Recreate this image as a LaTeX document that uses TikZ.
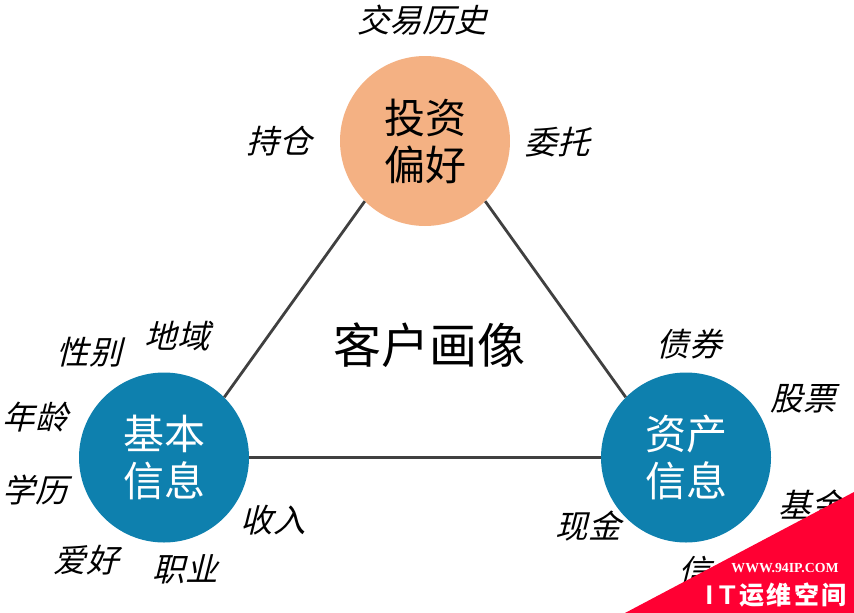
\documentclass[tikz,border=0pt]{standalone}
\usepackage{fontspec}
\setmainfont{Liberation Sans}
\newfontfamily\cjk{Noto Sans CJK SC}
\newfontfamily\cjkit[FakeSlant=0.25]{Noto Sans CJK SC}
\newfontfamily\wmserif{Liberation Serif}
\definecolor{peach}{HTML}{F4B183}
\definecolor{teal1}{HTML}{0E80AE}
\definecolor{redc}{HTML}{FF0033}
\definecolor{lin}{HTML}{404040}
\tikzset{
  hub/.style={circle,minimum size=170pt,inner sep=0pt,align=center,font=\fontsize{41}{47}\selectfont\cjk},
  tag/.style={inner sep=0pt,text=black,font=\fontsize{32.5}{36}\selectfont\cjkit},
  link/.style={draw=lin,line width=2.8pt}
}
\begin{document}
\begin{tikzpicture}[x=1pt,y=-1pt]
\useasboundingbox (0,0) rectangle (854,613);
\node[hub,fill=peach,text=black] (top) at (425,141) {投资\\偏好};
\node[hub,fill=teal1,text=white] (left) at (164,457.5) {基本\\信息};
\node[hub,fill=teal1,text=white] (right) at (686,457.5) {资产\\信息};
\draw[link] (top.225) -- (left.45);
\draw[link] (top.-45) -- (right.135);
\draw[link] (left) -- (right);
\node[inner sep=0pt,font=\fontsize{48}{52}\selectfont\cjk] (title) at (429,345) {客户画像};
\node[tag] (t1) at (422,20) {交易历史};
\node[tag] (t2) at (279,141) {持仓};
\node[tag] (t3) at (557,142) {委托};
\node[tag] (l1) at (177,336) {地域};
\node[tag] (l2) at (89,352) {性别};
\node[tag] (l3) at (35,417) {年龄};
\node[tag] (l4) at (35,490) {学历};
\node[tag] (l5) at (86,560) {爱好};
\node[tag] (l6) at (185,569) {职业};
\node[tag] (l7) at (273,520) {收入};
\node[tag] (r1) at (689,344) {债券};
\node[tag] (r2) at (803,399) {股票};
\node[tag] (r3) at (811,505) {基金};
\node[tag] (r4) at (588,526) {现金};
\node[tag] (r5) at (695,571) {信};
\fill[redc] (854,492) -- (854,613) -- (625,613) -- cycle;
\node[inner sep=0pt,text=white,font=\fontsize{13.8}{16}\selectfont\bfseries\wmserif] (w1) at (785,568) {WWW.94IP.COM};
\node[inner sep=0pt,text=white,font=\fontsize{27}{30}\selectfont\bfseries] (w2) at (720.5,595) {I\hspace{6pt}T};
\node[inner sep=0pt,text=white,font=\fontsize{25}{30}\selectfont\bfseries\cjk] (w3) at (793,595) {运\hspace{2.5pt}维\hspace{2.5pt}空\hspace{2.5pt}间};
\end{tikzpicture}
\end{document}
